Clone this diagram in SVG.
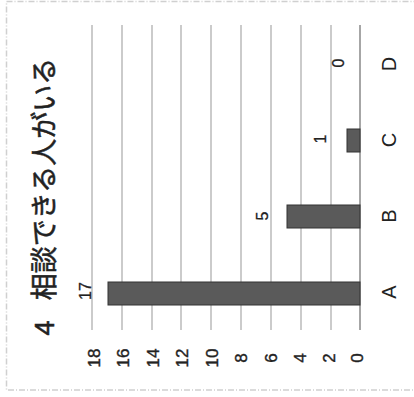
<svg xmlns="http://www.w3.org/2000/svg" width="414" height="397" viewBox="0 0 414 397">
<style>
.frame{fill:none;stroke:#d0d0d0;stroke-width:1.5;stroke-dasharray:6 2 1 2}
.grid{stroke:#a8a8a8;stroke-width:1.2}
.axis{stroke:#888;stroke-width:1.5}
.bar{fill:#5a5a5a;stroke:#333;stroke-width:1}
.tick{font-family:"Liberation Sans",Arial,sans-serif;font-size:17px;fill:#222;stroke:#222;stroke-width:0.4;text-anchor:middle;dominant-baseline:central}
.cat{font-family:"Liberation Sans",Arial,sans-serif;font-size:20px;fill:#222;text-anchor:middle;dominant-baseline:central}
.val{font-family:"Liberation Sans",Arial,sans-serif;font-size:16px;fill:#222;stroke:#222;stroke-width:0.3;text-anchor:middle;dominant-baseline:central}
.title{font-family:"Noto Sans CJK JP","Noto Sans",sans-serif;font-size:27px;fill:#222;stroke:#222;stroke-width:0.5;text-anchor:middle;dominant-baseline:central}
</style>
<rect class="frame" x="6.5" y="1.5" width="420" height="388.5"/>
<g id="grid">
<line class="grid" x1="92" y1="25" x2="92" y2="330"/>
<line class="grid" x1="122" y1="25" x2="122" y2="330"/>
<line class="grid" x1="152" y1="25" x2="152" y2="330"/>
<line class="grid" x1="181" y1="25" x2="181" y2="330"/>
<line class="grid" x1="211" y1="25" x2="211" y2="330"/>
<line class="grid" x1="241" y1="25" x2="241" y2="330"/>
<line class="grid" x1="271" y1="25" x2="271" y2="330"/>
<line class="grid" x1="301" y1="25" x2="301" y2="330"/>
<line class="grid" x1="331" y1="25" x2="331" y2="330"/>
<line class="axis" x1="360" y1="25" x2="360" y2="330"/>
</g>
<g id="title"><text class="title" transform="translate(42,328) rotate(-90)">4</text><text class="title" transform="translate(42,179) rotate(-90)">相談できる人がいる</text></g>
<g id="ticks">
<text class="tick" transform="translate(94,358) rotate(-90)">18</text>
<text class="tick" transform="translate(123,358) rotate(-90)">16</text>
<text class="tick" transform="translate(153,358) rotate(-90)">14</text>
<text class="tick" transform="translate(182,358) rotate(-90)">12</text>
<text class="tick" transform="translate(212,358) rotate(-90)">10</text>
<text class="tick" transform="translate(241,358) rotate(-90)">8</text>
<text class="tick" transform="translate(271,358) rotate(-90)">6</text>
<text class="tick" transform="translate(300,358) rotate(-90)">4</text>
<text class="tick" transform="translate(329,358) rotate(-90)">2</text>
<text class="tick" transform="translate(357,358) rotate(-90)">0</text>
</g>
<g id="bar-A"><rect class="bar" x="108" y="282" width="252" height="23"/><text class="val" transform="translate(85,291) rotate(-90)">17</text><text class="cat" transform="translate(389,292) rotate(-90)">A</text></g>
<g id="bar-B"><rect class="bar" x="287" y="205" width="73" height="23"/><text class="val" transform="translate(262,216) rotate(-90)">5</text><text class="cat" transform="translate(389,216) rotate(-90)">B</text></g>
<g id="bar-C"><rect class="bar" x="347" y="129" width="13" height="23"/><text class="val" transform="translate(320,139) rotate(-90)">1</text><text class="cat" transform="translate(389,140) rotate(-90)">C</text></g>
<g id="bar-D"><text class="val" transform="translate(338,63) rotate(-90)">0</text><text class="cat" transform="translate(389,64) rotate(-90)">D</text></g>
</svg>
